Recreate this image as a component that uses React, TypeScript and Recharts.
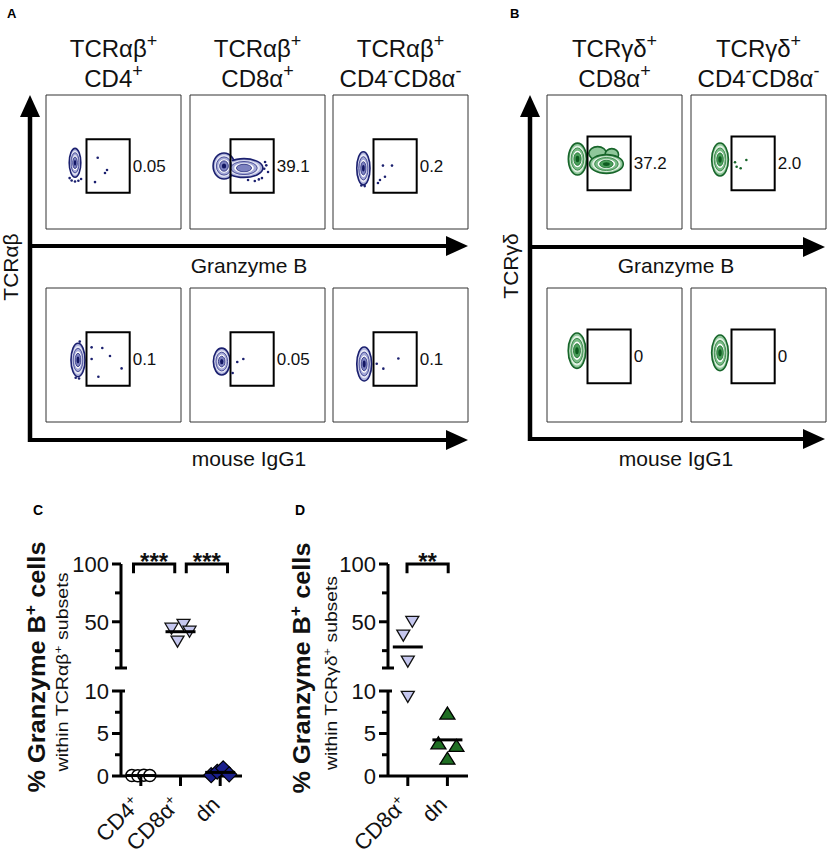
import React from 'react';
import { ScatterChart, Scatter, XAxis, YAxis, ReferenceArea } from 'recharts';

const FONT = '"Liberation Sans", Arial, Helvetica, sans-serif';

// ---------------- Panel A / B : flow cytometry ----------------
const aHeaders = [['TCRαβ+', 'CD4+'], ['TCRαβ+', 'CD8α+'], ['TCRαβ+', 'CD4-CD8α-']];
const bHeaders = [['TCRγδ+', 'CD8α+'], ['TCRγδ+', 'CD4-CD8α-']];

const aGzmbFreq = ['0.05', '39.1', '0.2'];
const aIsoFreq = ['0.1', '0.05', '0.1'];
const bGzmbFreq = ['37.2', '2.0'];
const bIsoFreq = ['0', '0'];

const gateA = { x1: 30, x2: 62, y1: 27, y2: 67 };
const gateB = { x1: 30, x2: 62, y1: 29, y2: 69 };

// contour populations (centre, spread, density levels) on a 0-100 fluorescence scale
const aGzmbCD4Pop = [{ x: 21.5, y: 49.4, sx: 4.3, sy: 10.8, d: 6 }];
const aGzmbCD8Pop = [
  { x: 25.2, y: 47, sx: 8.1, sy: 9.7, d: 6 },
  { x: 40, y: 45.5, sx: 14, sy: 7, d: 5 },
];
const aGzmbDnPop = [{ x: 22.5, y: 45.3, sx: 4.9, sy: 12.4, d: 6 }];
const aIsoCD4Pop = [{ x: 23.7, y: 46.3, sx: 5.2, sy: 12.5, d: 6 }];
const aIsoCD8Pop = [{ x: 23.5, y: 45.1, sx: 6.2, sy: 10, d: 6 }];
const aIsoDnPop = [{ x: 23.1, y: 43.3, sx: 5.5, sy: 12.7, d: 6 }];
const bGzmbCD8Pop = [
  { x: 22.6, y: 52.2, sx: 6.8, sy: 11.9, d: 6 },
  { x: 37.5, y: 56.5, sx: 6.5, sy: 5, d: 1 },
  { x: 48, y: 55.5, sx: 5, sy: 4.5, d: 1 },
  { x: 44, y: 48.5, sx: 12.5, sy: 7, d: 6 },
];
const bGzmbDnPop = [{ x: 21.5, y: 51.9, sx: 6.2, sy: 12.3, d: 6 }];
const bIsoCD8Pop = [{ x: 22.2, y: 53.2, sx: 6.5, sy: 13.2, d: 6 }];
const bIsoDnPop = [{ x: 21.5, y: 51.6, sx: 6.2, sy: 13.3, d: 6 }];

// single events
const aGzmbCD4Ev = [
  { x: 38.3, y: 53.2 }, { x: 45.2, y: 44 }, { x: 43.7, y: 41.8 }, { x: 36.3, y: 35 },
  { x: 19, y: 36.2 }, { x: 21.5, y: 35.4 }, { x: 24, y: 36 }, { x: 26, y: 37.3 }, { x: 17.5, y: 38 },
];
const aGzmbCD8Ev = [
  { x: 55.6, y: 50 }, { x: 57.8, y: 42.5 }, { x: 53.3, y: 38 }, { x: 48, y: 35.8 }, { x: 43, y: 36.6 },
  { x: 55, y: 45 }, { x: 51, y: 37 }, { x: 56.5, y: 47.5 },
];
const aGzmbDnEv = [
  { x: 37, y: 47.3 }, { x: 43.7, y: 47.3 }, { x: 38.5, y: 39 }, { x: 34.8, y: 36.6 }, { x: 33.3, y: 34.3 },
  { x: 21, y: 32.5 }, { x: 23.5, y: 32 },
];
const aIsoCD4Ev = [
  { x: 33.8, y: 55.7 }, { x: 41.7, y: 55.2 }, { x: 33.8, y: 47 }, { x: 47.4, y: 49.2 }, { x: 56, y: 40 },
  { x: 38.8, y: 33.8 }, { x: 22, y: 33 }, { x: 24.5, y: 32.5 }, { x: 25, y: 60 },
];
const aIsoCD8Ev = [{ x: 35, y: 44.8 }, { x: 39.5, y: 47 }, { x: 31.6, y: 36.6 }];
const aIsoDnEv = [{ x: 32.4, y: 43.5 }, { x: 37.3, y: 39.8 }, { x: 48.4, y: 47.4 }];
const bGzmbCD8Ev: { x: number; y: number }[] = [];
const bGzmbDnEv = [{ x: 41, y: 51.5 }, { x: 33.8, y: 46.5 }, { x: 36.8, y: 45.3 }, { x: 32.6, y: 49.8 }];
const bIsoCD8Ev: { x: number; y: number }[] = [];
const bIsoDnEv: { x: number; y: number }[] = [];

// ---------------- Panel C / D : summary scatter ----------------
const cCategories = ['CD4+', 'CD8α+', 'dn'];
const cCD4 = [0.05, 0.02, 0.1, 0.05];
const cCD8 = [44, 32.8, 47.4, 41.4];
const cDN = [0.1, 0.5, 0.9, 0.2];
const cStats = [{ from: 0, to: 1, label: '***' }, { from: 1, to: 2, label: '***' }];

const dCategories = ['CD8α+', 'dn'];
const dCD8 = [38, 50, 15.5, 9.3];
const dDN = [7.4, 3.9, 2.1, 3.6];
const dStats = [{ from: 0, to: 1, label: '**' }];

const upperTicks = [10, 25, 50, 75, 100];
const upperLabels = [50, 100];
const lowerTicks = [0, 2.5, 5, 7.5, 10];
const lowerLabels = [0, 5, 10];

// ---------------- styles ----------------
const NAVY = '#1b206f';
const GREEN = '#17652a';
const NAVY_LEVELS = [
  { f: 1.0, fill: '#b0b4dc', stroke: '#1b206f', sw: 1.6 },
  { f: 0.84, fill: '#e7e8f5', stroke: 'none', sw: 0 },
  { f: 0.7, fill: '#a5a9d7', stroke: '#2f3487', sw: 0.8 },
  { f: 0.52, fill: '#ffffff', stroke: 'none', sw: 0 },
  { f: 0.4, fill: '#7d82c0', stroke: '#23287a', sw: 0.8 },
  { f: 0.2, fill: '#121662', stroke: 'none', sw: 0 },
];
const GREEN_LEVELS = [
  { f: 1.0, fill: '#8fc79a', stroke: '#17652a', sw: 1.6 },
  { f: 0.84, fill: '#e2f1e3', stroke: 'none', sw: 0 },
  { f: 0.7, fill: '#79bb86', stroke: '#2b7c3b', sw: 0.8 },
  { f: 0.52, fill: '#ffffff', stroke: 'none', sw: 0 },
  { f: 0.4, fill: '#4a9f5a', stroke: '#1d6d2e', sw: 0.8 },
  { f: 0.2, fill: '#0d5a1f', stroke: 'none', sw: 0 },
];

const A_LEFTS = [46, 190, 333];
const B_LEFTS = [547, 691];
const ROW_TOPS = [95, 288];
const BOX_W = 135;
const BOX_H = 134;

type Pop = { x: number; y: number; sx: number; sy: number; d: number };
type Ev = { x: number; y: number };

const flowPlots = [
  { left: A_LEFTS[0], top: ROW_TOPS[0], pops: aGzmbCD4Pop, events: aGzmbCD4Ev, freq: aGzmbFreq[0], gate: gateA, pal: NAVY_LEVELS, dot: NAVY },
  { left: A_LEFTS[1], top: ROW_TOPS[0], pops: aGzmbCD8Pop, events: aGzmbCD8Ev, freq: aGzmbFreq[1], gate: gateA, pal: NAVY_LEVELS, dot: NAVY },
  { left: A_LEFTS[2], top: ROW_TOPS[0], pops: aGzmbDnPop, events: aGzmbDnEv, freq: aGzmbFreq[2], gate: gateA, pal: NAVY_LEVELS, dot: NAVY },
  { left: A_LEFTS[0], top: ROW_TOPS[1], pops: aIsoCD4Pop, events: aIsoCD4Ev, freq: aIsoFreq[0], gate: gateA, pal: NAVY_LEVELS, dot: NAVY },
  { left: A_LEFTS[1], top: ROW_TOPS[1], pops: aIsoCD8Pop, events: aIsoCD8Ev, freq: aIsoFreq[1], gate: gateA, pal: NAVY_LEVELS, dot: NAVY },
  { left: A_LEFTS[2], top: ROW_TOPS[1], pops: aIsoDnPop, events: aIsoDnEv, freq: aIsoFreq[2], gate: gateA, pal: NAVY_LEVELS, dot: NAVY },
  { left: B_LEFTS[0], top: ROW_TOPS[0], pops: bGzmbCD8Pop, events: bGzmbCD8Ev, freq: bGzmbFreq[0], gate: gateB, pal: GREEN_LEVELS, dot: GREEN },
  { left: B_LEFTS[1], top: ROW_TOPS[0], pops: bGzmbDnPop, events: bGzmbDnEv, freq: bGzmbFreq[1], gate: gateB, pal: GREEN_LEVELS, dot: GREEN },
  { left: B_LEFTS[0], top: ROW_TOPS[1], pops: bIsoCD8Pop, events: bIsoCD8Ev, freq: bIsoFreq[0], gate: gateB, pal: GREEN_LEVELS, dot: GREEN },
  { left: B_LEFTS[1], top: ROW_TOPS[1], pops: bIsoDnPop, events: bIsoDnEv, freq: bIsoFreq[1], gate: gateB, pal: GREEN_LEVELS, dot: GREEN },
];

const ellipseShape = (lv: any) => (props: any) => {
  const w = Math.abs(props.width);
  const h = Math.abs(props.height);
  const x = Math.min(props.x, props.x + props.width);
  const y = Math.min(props.y, props.y + props.height);
  return (
    <ellipse cx={x + w / 2} cy={y + h / 2} rx={w / 2} ry={h / 2} fill={lv.fill} stroke={lv.stroke} strokeWidth={lv.sw} />
  );
};

const emptyShape = () => <g />;

function FlowPlot({ left, top, pops, events, freq, gate, pal, dot }: any) {
  const layers: any[] = [];
  pal.forEach((lv: any, li: number) => {
    (pops as Pop[]).forEach((p, pi) => {
      if (li >= p.d) return;
      layers.push(
        <ReferenceArea
          key={`l${li}-${pi}`}
          x1={p.x - p.sx * lv.f}
          x2={p.x + p.sx * lv.f}
          y1={p.y - p.sy * lv.f}
          y2={p.y + p.sy * lv.f}
          ifOverflow="visible"
          shape={ellipseShape(lv)}
        />
      );
    });
  });
  const gateCorners = [
    { x: gate.x1, y: gate.y1 },
    { x: gate.x2, y: gate.y2 },
  ];
  return (
    <div style={{ position: 'absolute', left: left - 1, top: top - 1 }}>
      <ScatterChart width={BOX_W + 2} height={BOX_H + 2} margin={{ top: 1, right: 1, bottom: 1, left: 1 }}>
        <XAxis type="number" dataKey="x" domain={[0, 100]} hide />
        <YAxis type="number" dataKey="y" domain={[0, 100]} hide />
        <ReferenceArea x1={0} x2={100} y1={0} y2={100} fill="none" fillOpacity={0} stroke="#333" strokeWidth={1} ifOverflow="visible" />
        {layers}
        <ReferenceArea
          x1={gate.x1}
          x2={gate.x2}
          y1={gate.y1}
          y2={gate.y2}
          fill="none"
          fillOpacity={0}
          stroke="#000"
          strokeWidth={2}
          ifOverflow="visible"
          label={{ value: freq, position: 'right', offset: 3, fontSize: 17, fill: '#111', fontFamily: FONT }}
        />
        <Scatter data={gateCorners} isAnimationActive={false} shape={emptyShape} />
        <Scatter
          data={events as Ev[]}
          isAnimationActive={false}
          shape={(p: any) => <circle cx={p.cx} cy={p.cy} r={1.3} fill={dot} />}
        />
      </ScatterChart>
    </div>
  );
}

// ---------- broken axis helpers ----------
const UP_H = 104;
const LO_H = 85;
const GAP = 23;
const pixY = (v: number) => (v >= 10 ? ((100 - v) / 90) * UP_H : UP_H + GAP + ((10 - v) / 10) * LO_H);

function swarm(values: number[], cat: number, spreadPx: number, ppu: number, thresh = 15) {
  const order = values.map((_, i) => i).sort((a, b) => pixY(values[a]) - pixY(values[b]));
  const rows: number[][] = [];
  let cur: number[] = [];
  order.forEach((i, k) => {
    if (k > 0 && pixY(values[i]) - pixY(values[order[k - 1]]) >= thresh) {
      rows.push(cur);
      cur = [];
    }
    cur.push(i);
  });
  rows.push(cur);
  const xs: number[] = new Array(values.length);
  rows.forEach((r) => {
    const s = [...r].sort((a, b) => a - b);
    s.forEach((i, j) => {
      xs[i] = cat + ((j - (s.length - 1) / 2) * spreadPx) / ppu;
    });
  });
  return values.map((v, i) => ({ x: xs[i], y: v }));
}

const AXIS = { stroke: '#000', strokeWidth: 3 };

const makeYTick = (labels: number[], caps: Record<string, [number, number]>) => (props: any) => {
  const { x, y, payload } = props;
  const v = payload.value;
  const isLabel = labels.includes(v);
  let x1 = x - (isLabel ? 9 : 6);
  let x2 = x;
  if (caps[String(v)]) {
    x1 = x - caps[String(v)][0];
    x2 = x + caps[String(v)][1];
  }
  return (
    <g>
      <line x1={x1} x2={x2} y1={y} y2={y} stroke="#000" strokeWidth={3} />
      {isLabel && (
        <text x={x - 12} y={y} dy="0.36em" textAnchor="end" fontSize={22} fontFamily={FONT} fill="#111">
          {v}
        </text>
      )}
    </g>
  );
};

const makeXTick = (cats: string[]) => (props: any) => {
  const { x, y, payload } = props;
  const label = cats[payload.value] || '';
  const sup = label.endsWith('+');
  const base = sup ? label.slice(0, -1) : label;
  const ax = x + 1;
  const ay = y + 30;
  return (
    <g>
      <line x1={x} x2={x} y1={y} y2={y + 10} stroke="#000" strokeWidth={3} />
      <text x={ax} y={ay} transform={`rotate(-45 ${ax} ${ay})`} textAnchor="end" fontSize={22} fontFamily={FONT} fill="#111">
        {base}
        {sup && (
          <tspan dy={-8} fontSize={14}>
            +
          </tspan>
        )}
      </text>
    </g>
  );
};

const circleMarker = (p: any) => <circle cx={p.cx} cy={p.cy} r={6} fill="#fff" stroke="#000" strokeWidth={1.5} />;
const triDownMarker = (p: any) => (
  <polygon
    points={`${p.cx - 6.5},${p.cy - 5.5} ${p.cx + 6.5},${p.cy - 5.5} ${p.cx},${p.cy + 5.5}`}
    fill="#c5c7ef"
    stroke="#111"
    strokeWidth={1.3}
    strokeLinejoin="miter"
  />
);
const diamondMarker = (p: any) => (
  <polygon
    points={`${p.cx},${p.cy - 7.5} ${p.cx + 7.5},${p.cy} ${p.cx},${p.cy + 7.5} ${p.cx - 7.5},${p.cy}`}
    fill="#1a1f8c"
    stroke="#000"
    strokeWidth={1.2}
  />
);
const triUpMarker = (p: any) => (
  <polygon
    points={`${p.cx - 7.5},${p.cy + 6} ${p.cx + 7.5},${p.cy + 6} ${p.cx},${p.cy - 6}`}
    fill="#1f6e23"
    stroke="#000"
    strokeWidth={1.3}
  />
);
const meanShape = (p: any) => <line x1={p.cx - 15} x2={p.cx + 15} y1={p.cy} y2={p.cy} stroke="#000" strokeWidth={3} />;
const starShape = (p: any) => (
  <text x={p.cx} y={p.cy + 6} textAnchor="middle" fontSize={24} fontWeight="bold" fontFamily={FONT} fill="#111">
    {p.payload.label}
  </text>
);

function BrokenPanel({ left, width, yAxisWidth, rightMargin, xDomain, categories, groups, stats, spread }: any) {
  const plotW = width - yAxisWidth - rightMargin;
  const ppu = plotW / (xDomain[1] - xDomain[0]);
  const series = groups.map((g: any) => ({ ...g, pts: swarm(g.values, g.cat, spread, ppu) }));
  const means = groups.map((g: any) => ({
    x: g.cat,
    y: g.values.reduce((a: number, b: number) => a + b, 0) / g.values.length,
  }));
  const brackets = stats.map((s: any, i: number) => {
    const c = (s.from + s.to) / 2 + (i - (stats.length - 1) / 2) * 0.33;
    const h = 0.52;
    return {
      pts: [
        { x: c - h, y: 92 },
        { x: c - h, y: 100 },
        { x: c + h, y: 100 },
        { x: c + h, y: 92 },
      ],
      star: { x: c, y: 100, label: s.label },
    };
  });
  const xTicks = categories.map((_: any, i: number) => i);
  return (
    <>
      <div style={{ position: 'absolute', left, top: 540 }}>
        <ScatterChart width={width} height={130} margin={{ top: 24, right: rightMargin, bottom: 2, left: 0 }}>
          <XAxis type="number" dataKey="x" domain={xDomain} hide />
          <YAxis
            type="number"
            dataKey="y"
            domain={[10, 100]}
            ticks={upperTicks}
            interval={0}
            width={yAxisWidth}
            axisLine={AXIS}
            tickLine={false}
            tickSize={0}
            tickMargin={0}
            tick={makeYTick(upperLabels, { '10': [6, 6] })}
          />
          {series.map((s: any, i: number) => (
            <Scatter key={`u${i}`} data={s.pts.filter((p: any) => p.y >= 10)} shape={s.marker} isAnimationActive={false} />
          ))}
          <Scatter data={means.filter((m: any) => m.y >= 10)} shape={meanShape} isAnimationActive={false} />
          {brackets.map((b: any, i: number) => (
            <Scatter
              key={`b${i}`}
              data={b.pts}
              line={{ stroke: '#000', strokeWidth: 3 }}
              stroke="#000"
              strokeWidth={3}
              shape={emptyShape}
              isAnimationActive={false}
            />
          ))}
          <Scatter data={brackets.map((b: any) => b.star)} shape={starShape} isAnimationActive={false} />
        </ScatterChart>
      </div>
      <div style={{ position: 'absolute', left, top: 680 }}>
        <ScatterChart width={width} height={177} margin={{ top: 11, right: rightMargin, bottom: 0, left: 0 }}>
          <XAxis
            type="number"
            dataKey="x"
            domain={xDomain}
            ticks={xTicks}
            interval={0}
            height={81}
            axisLine={AXIS}
            tickLine={false}
            tickSize={0}
            tickMargin={0}
            tick={makeXTick(categories)}
          />
          <YAxis
            type="number"
            dataKey="y"
            domain={[0, 10]}
            ticks={lowerTicks}
            interval={0}
            width={yAxisWidth}
            axisLine={AXIS}
            tickLine={false}
            tickSize={0}
            tickMargin={0}
            tick={makeYTick(lowerLabels, { '10': [9, 4] })}
          />
          {series.map((s: any, i: number) => (
            <Scatter key={`l${i}`} data={s.pts.filter((p: any) => p.y < 10)} shape={s.marker} isAnimationActive={false} />
          ))}
          <Scatter data={means.filter((m: any) => m.y < 10)} shape={meanShape} isAnimationActive={false} />
        </ScatterChart>
      </div>
    </>
  );
}

// ---------- text helpers ----------
function splitSup(s: string) {
  const out: { t: string; sup: boolean }[] = [];
  let buf = '';
  for (const ch of s) {
    if (ch === '+' || ch === '-') {
      if (buf) out.push({ t: buf, sup: false });
      buf = '';
      out.push({ t: ch, sup: true });
    } else buf += ch;
  }
  if (buf) out.push({ t: buf, sup: false });
  return out;
}

function SupText({ x, y, text, size, supSize, rise, anchor = 'middle', weight = 'normal', rotate = 0, length }: any) {
  let raised = false;
  const parts = splitSup(text).map((p, i) => {
    let dy = 0;
    if (p.sup && !raised) {
      dy = -rise;
      raised = true;
    } else if (!p.sup && raised) {
      dy = rise;
      raised = false;
    }
    return (
      <tspan key={i} dy={dy || undefined} fontSize={p.sup ? supSize : size}>
        {p.t}
      </tspan>
    );
  });
  return (
    <text
      x={x}
      y={y}
      textAnchor={anchor}
      fontSize={size}
      fontWeight={weight}
      fontFamily={FONT}
      fill="#111"
      textLength={length}
      lengthAdjust={length ? 'spacingAndGlyphs' : undefined}
      transform={rotate ? `rotate(${rotate} ${x} ${y})` : undefined}
    >
      {parts}
    </text>
  );
}

function Arrow({ x1, y1, x2, y2, w = 4 }: any) {
  const dx = x2 - x1;
  const dy = y2 - y1;
  const len = Math.sqrt(dx * dx + dy * dy);
  const ux = dx / len;
  const uy = dy / len;
  const hl = 22;
  const hw = 10;
  const bx = x2 - ux * hl;
  const by = y2 - uy * hl;
  return (
    <g>
      <line x1={x1} y1={y1} x2={bx + ux * 2} y2={by + uy * 2} stroke="#000" strokeWidth={w} />
      <polygon points={`${x2},${y2} ${bx - uy * hw},${by + ux * hw} ${bx + uy * hw},${by - ux * hw}`} fill="#000" />
    </g>
  );
}

export default function App() {
  const aCenters = A_LEFTS.map((l) => l + BOX_W / 2);
  const bCenters = B_LEFTS.map((l) => l + BOX_W / 2);
  return (
    <div
      style={{
        position: 'absolute',
        left: 0,
        top: 0,
        width: 829,
        height: 857,
        background: '#fff',
        fontFamily: FONT,
        overflow: 'hidden',
      }}
    >
      <svg width={829} height={857} style={{ position: 'absolute', left: 0, top: 0 }}>
        {/* panel letters */}
        <text x={7} y={18} fontSize={13} fontWeight="bold" fontFamily={FONT}>A</text>
        <text x={510} y={18} fontSize={13} fontWeight="bold" fontFamily={FONT}>B</text>
        <text x={33} y={515} fontSize={14} fontWeight="bold" fontFamily={FONT}>C</text>
        <text x={295} y={515} fontSize={14} fontWeight="bold" fontFamily={FONT}>D</text>

        {/* headers */}
        {aHeaders.map((h, i) => (
          <g key={`ah${i}`}>
            <SupText x={aCenters[i]} y={57} text={h[0]} size={24} supSize={18} rise={10} />
            <SupText x={aCenters[i]} y={87} text={h[1]} size={24} supSize={18} rise={10} />
          </g>
        ))}
        {bHeaders.map((h, i) => (
          <g key={`bh${i}`}>
            <SupText x={bCenters[i]} y={57} text={h[0]} size={24} supSize={18} rise={10} />
            <SupText x={bCenters[i]} y={87} text={h[1]} size={24} supSize={18} rise={10} />
          </g>
        ))}

        {/* arrows A */}
        <Arrow x1={30} y1={442} x2={30} y2={95} w={4.5} />
        <Arrow x1={28} y1={246} x2={468} y2={246} />
        <Arrow x1={28} y1={440} x2={468} y2={440} />
        {/* arrows B */}
        <Arrow x1={530} y1={441} x2={530} y2={95} w={4.5} />
        <Arrow x1={528} y1={247} x2={825} y2={247} />
        <Arrow x1={528} y1={439} x2={825} y2={439} />

        {/* axis labels */}
        <text x={249} y={273} textAnchor="middle" fontSize={21} fontFamily={FONT} fill="#111">Granzyme B</text>
        <text x={249} y={466} textAnchor="middle" fontSize={21} fontFamily={FONT} fill="#111">mouse IgG1</text>
        <text x={676} y={273} textAnchor="middle" fontSize={21} fontFamily={FONT} fill="#111">Granzyme B</text>
        <text x={676} y={466} textAnchor="middle" fontSize={21} fontFamily={FONT} fill="#111">mouse IgG1</text>
        <text x={18} y={267} textAnchor="middle" fontSize={21} fontFamily={FONT} fill="#111" transform="rotate(-90 18 267)">TCRαβ</text>
        <text x={518} y={266} textAnchor="middle" fontSize={21} fontFamily={FONT} fill="#111" transform="rotate(-90 518 266)">TCRγδ</text>

        {/* C / D y labels */}
        <SupText x={45} y={667} text="% Granzyme B+ cells" size={23} supSize={16} rise={9} weight="bold" rotate={-90} length={251} />
        <SupText x={68} y={672} text="within TCRαβ+ subsets" size={16} supSize={11} rise={6} rotate={-90} length={199} />
        <SupText x={310} y={668} text="% Granzyme B+ cells" size={23} supSize={16} rise={9} weight="bold" rotate={-90} length={251} />
        <SupText x={337} y={673} text="within TCRγδ+ subsets" size={16} supSize={11} rise={6} rotate={-90} length={194} />
      </svg>

      {flowPlots.map((fp, i) => (
        <FlowPlot key={i} {...fp} />
      ))}

      <BrokenPanel
        left={0}
        width={260}
        yAxisWidth={121}
        rightMargin={18}
        xDomain={[-0.5, 2.55]}
        categories={cCategories}
        spread={6}
        stats={cStats}
        groups={[
          { values: cCD4, cat: 0, marker: circleMarker },
          { values: cCD8, cat: 1, marker: triDownMarker },
          { values: cDN, cat: 2, marker: diamondMarker },
        ]}
      />
      <BrokenPanel
        left={270}
        width={210}
        yAxisWidth={118}
        rightMargin={12}
        xDomain={[-0.5, 1.52]}
        categories={dCategories}
        spread={9}
        stats={dStats}
        groups={[
          { values: dCD8, cat: 0, marker: triDownMarker },
          { values: dDN, cat: 1, marker: triUpMarker },
        ]}
      />
    </div>
  );
}
